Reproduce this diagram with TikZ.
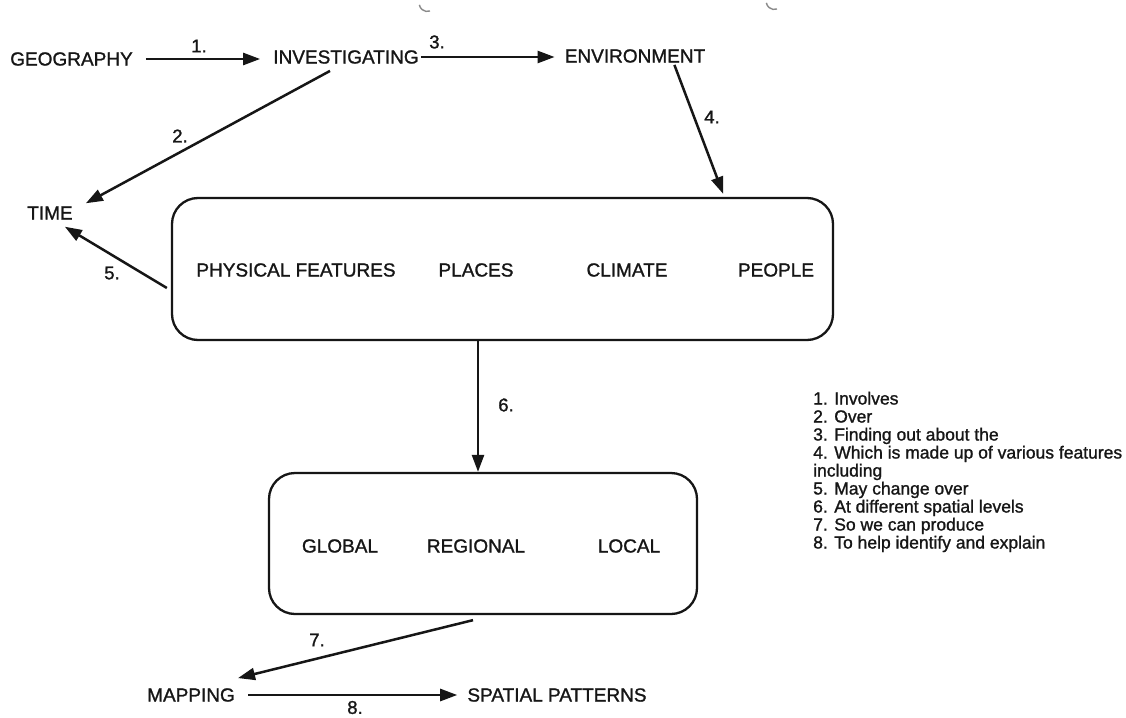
\documentclass[tikz,border=0pt]{standalone}
\usepackage{fontspec}
\setmainfont{Liberation Sans}[FakeBold=1.2]
\usetikzlibrary{arrows.meta,calc}
\definecolor{ink}{HTML}{161616}
\definecolor{smudge}{HTML}{8A8A8A}
\begin{document}
\begin{tikzpicture}[x=1pt,y=-1pt,
  lbl/.style={inner sep=0pt, font=\fontsize{19}{22}\selectfont, text=ink},
  num/.style={inner sep=0pt, font=\fontsize{18.5}{22}\selectfont, text=ink},
  leg/.style={inner sep=0pt, anchor=base west, font=\fontsize{17.5}{18}\selectfont, text=ink},
  arr/.style={draw=ink, line width=2.5pt, -{Triangle[length=17pt,width=12pt]}},
  bigbox/.style={draw=ink, line width=2.3pt, rounded corners=26pt, inner sep=0pt}]
\fill[white] (0,0) rectangle (1126,717);
\useasboundingbox (0,0) rectangle (1126,717);

% scan marks
\draw[smudge, line width=1.4pt] (430,11) arc[start angle=70, end angle=170, radius=8];
\draw[smudge, line width=1.4pt] (777,9) arc[start angle=70, end angle=170, radius=8];

% top row
\node[lbl] (geo) at (71.5,59) {GEOGRAPHY};
\node[lbl] (inv) at (346,57) {INVESTIGATING};
\node[lbl] (env) at (635,56) {ENVIRONMENT};
\node[lbl] (time) at (50,213) {TIME};

% boxes
\node[bigbox, minimum width=661pt, minimum height=142pt] (box1) at (502.5,269) {};
\node[lbl] (phys) at (296,270) {PHYSICAL FEATURES};
\node[lbl] (places) at (476,270) {PLACES};
\node[lbl] (climate) at (627,270) {CLIMATE};
\node[lbl] (people) at (776,270) {PEOPLE};

\node[bigbox, minimum width=428pt, minimum height=141pt] (box2) at (483,543.5) {};
\node[lbl] (global) at (340,546) {GLOBAL};
\node[lbl] (regional) at (476,546) {REGIONAL};
\node[lbl] (local) at (629,546) {LOCAL};

% bottom row
\node[lbl] (map) at (191,695) {MAPPING};
\node[lbl] (spat) at (557,695) {SPATIAL PATTERNS};

% connectors
\draw[arr] ($(geo.east)+(13,0)$) -- ($(inv.west |- geo.east)+(-13,0)$);
\draw[arr] ($(inv.east)+(2,0)$) -- ($(env.west |- inv.east)+(-10,0)$);
\draw[arr] ($(inv.south)+(-16,7)$) -- ($(time.north east)+(13,-3)$);
\draw[arr] ($(env.south east)+(-31,2)$) -- ($(box1.north east)+(-111,-3)$);
\draw[arr] ($(box1.west)+(-4,19)$) -- ($(time.south east)+(-8,7)$);
\coordinate (a6) at ($(box2.north)+(-5,0)$);
\draw[arr] (box1.south -| a6) -- (a6);
\draw[arr] ($(box2.south)+(-10,5)$) -- ($(map.north east)+(3,-10)$);
\draw[arr] ($(map.east)+(13,0)$) -- ($(spat.west)+(-10,0)$);

% connector labels
\node[num] (n1) at (199,46) {1.};
\node[num] (n2) at (180,136) {2.};
\node[num] (n3) at (437,42) {3.};
\node[num] (n4) at (712,117) {4.};
\node[num] (n5) at (112,273) {5.};
\node[num] (n6) at (506,405) {6.};
\node[num] (n7) at (317,640) {7.};
\node[num] (n8) at (355,707.5) {8.};

% legend
\node[leg] (l1) at (813,404.5) {1. Involves};
\node[leg] (l2) at (813,422.5) {2. Over};
\node[leg] (l3) at (813,440.5) {3. Finding out about the};
\node[leg] (l4) at (813,458.5) {4. Which is made up of various features};
\node[leg] (l4b) at (813,476.5) {including};
\node[leg] (l5) at (813,494.5) {5. May change over};
\node[leg] (l6) at (813,512.5) {6. At different spatial levels};
\node[leg] (l7) at (813,530.5) {7. So we can produce};
\node[leg] (l8) at (813,548.5) {8. To help identify and explain};
\end{tikzpicture}
\end{document}
